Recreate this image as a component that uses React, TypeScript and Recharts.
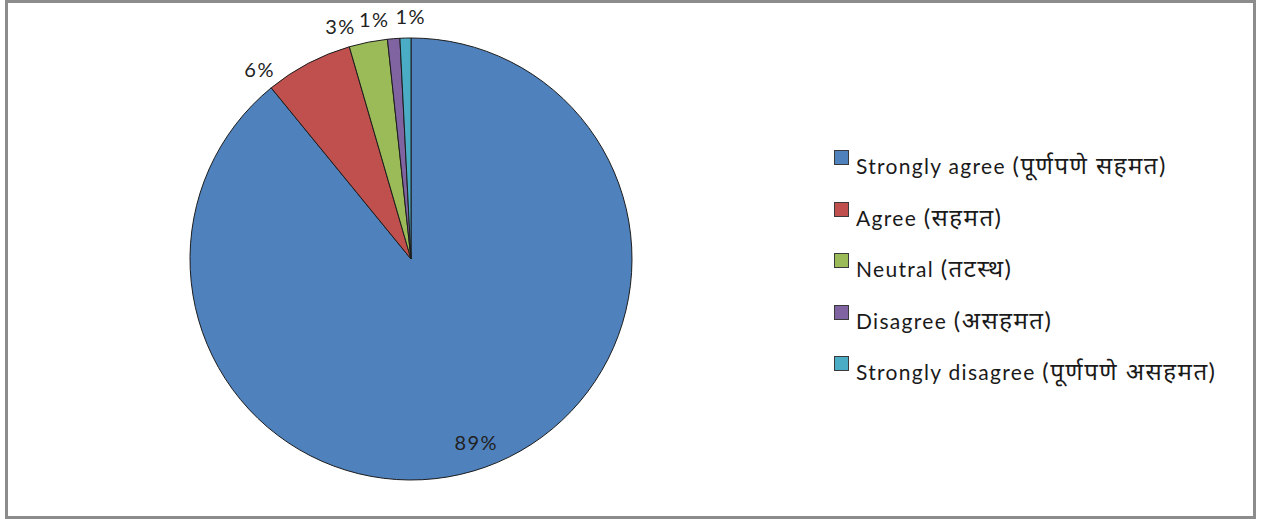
import React from "react";
import { PieChart, Pie, Cell, Legend } from "recharts";

// survey responses, share of answers (%)
const categories = [
  "Strongly agree (पूर्णपणे सहमत)",
  "Agree (सहमत)",
  "Neutral (तटस्थ)",
  "Disagree (असहमत)",
  "Strongly disagree (पूर्णपणे असहमत)",
];
const shares = [89.1, 6.4, 2.8, 0.9, 0.8];
const colors = ["#4F81BD", "#C0504D", "#9BBB59", "#8064A2", "#4BACC6"];

const data = categories.map((name, i) => ({ name, value: shares[i] }));

const FONT = "Lato, 'Noto Sans', sans-serif";
const RADIAN = Math.PI / 180;

// excel-style "best fit" spreads the small labels apart a bit
const labelNudge = [0, 10.8, 5.7, 4.2, -1.4];

const renderLabel = (props: any) => {
  const { cx, cy, midAngle, outerRadius, percent, index } = props;
  const inside = index === 0;
  const angle = midAngle + labelNudge[index];
  const r = inside ? outerRadius * 0.88 : outerRadius + 22;
  const x = cx + r * Math.cos(-angle * RADIAN);
  const y = cy + r * Math.sin(-angle * RADIAN);
  return (
    <text
      x={x}
      y={y}
      fill="#222"
      fontSize={20}
      letterSpacing={1.5}
      fontFamily={FONT}
      textAnchor="middle"
      dominantBaseline="central"
    >
      {`${Math.round(percent * 100)}%`}
    </text>
  );
};

// the devanagari part in brackets is drawn a touch larger, like the original
const legendText = (name: string) => {
  const cut = name.indexOf(" (");
  return (
    <>
      {name.slice(0, cut + 1)}
      <span style={{ fontSize: 24, letterSpacing: 1.5 }}>{name.slice(cut + 1)}</span>
    </>
  );
};

const renderLegend = () => (
  <div style={{ fontFamily: FONT, fontSize: 21, letterSpacing: 1.3, color: "#1a1a1a" }}>
    {categories.map((name, i) => (
      <div key={name} style={{ position: "relative", height: 51.5 }}>
        <span
          style={{
            position: "absolute",
            left: 0,
            top: 0,
            width: 13,
            height: 13,
            background: colors[i],
            border: "1px solid #3a3a3a",
          }}
        />
        <span style={{ position: "absolute", left: 22, top: -2, whiteSpace: "nowrap" }}>
          {legendText(name)}
        </span>
      </div>
    ))}
  </div>
);

export default function App() {
  return (
    <div style={{ position: "absolute", left: 0, top: 0, width: 1262, height: 519, background: "#fff" }}>
      <div
        style={{
          position: "absolute",
          left: 5,
          top: 0,
          width: 1251,
          height: 519,
          border: "3px solid #8c8c8c",
          boxSizing: "border-box",
        }}
      />
      <div style={{ position: "absolute", left: 0, top: 0 }}>
        <PieChart width={1262} height={519} margin={{ top: 0, right: 0, bottom: 0, left: 0 }}>
          <Pie
            data={data}
            dataKey="value"
            nameKey="name"
            cx={411}
            cy={259}
            outerRadius={221}
            startAngle={90}
            endAngle={-270}
            stroke="#1c1c1c"
            strokeWidth={1}
            label={renderLabel}
            labelLine={false}
            isAnimationActive={false}
          >
            {data.map((d, i) => (
              <Cell key={d.name} fill={colors[i]} />
            ))}
          </Pie>
          <Legend
            content={renderLegend}
            wrapperStyle={{ position: "absolute", left: 834, top: 150, width: 420 }}
          />
        </PieChart>
      </div>
    </div>
  );
}
